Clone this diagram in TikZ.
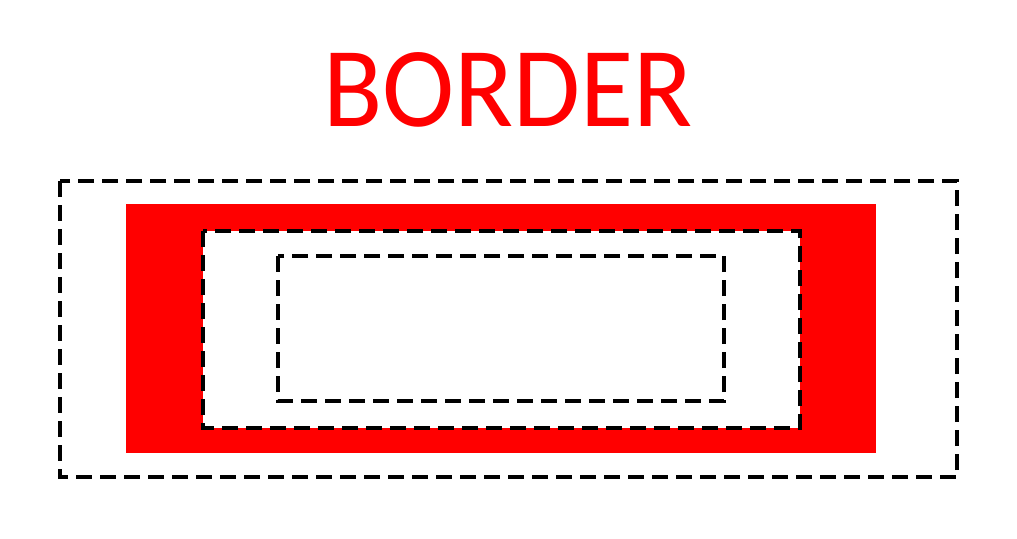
\documentclass[tikz,border=0pt]{standalone}
\usepackage{fontspec}
\setmainfont{Carlito}
\definecolor{bred}{RGB}{255,0,0}
\begin{document}
\begin{tikzpicture}[x=1pt,y=-1pt,
  dashbox/.style={draw=black,line width=3.5pt,dash pattern=on 16pt off 8pt},
  redfill/.style={fill=bred,draw=none}]
\useasboundingbox (0,0) rectangle (1017,538);
\node[anchor=base,text=bred,inner sep=0pt,font=\fontsize{114}{114}\selectfont] (title) at (508,126) {\scalebox{0.955}[1]{BORDER}};
\path[dashbox] (60,181) rectangle (957,477);
\path[redfill] (126,204) rectangle (876,453);
\path[dashbox,fill=white] (203,231) rectangle (800,428);
\path[dashbox] (278,256) rectangle (724,401);
\end{tikzpicture}
\end{document}
